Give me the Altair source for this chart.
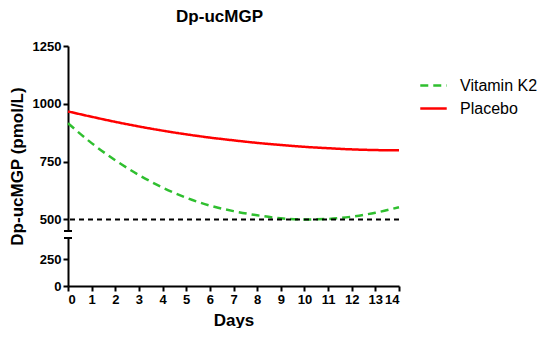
import altair as alt
import pandas as pd

days = list(range(15))
k2 = [916, 830, 756, 692, 638, 594, 560, 536, 518, 505, 500, 502, 512, 529, 553]
placebo = [967, 944, 922, 902, 884, 868, 854, 842, 831, 822, 814, 808, 803, 800, 799]
series = ["Vitamin K2", "Placebo"]
upper_ticks = [500, 750, 1000, 1250]
lower_ticks = [0, 250]
ref_value = 500
break_value = 450

FONT = "Liberation Sans"

df = pd.DataFrame(
    {"day": days * 2,
     "value": k2 + placebo,
     "group": [series[0]] * len(days) + [series[1]] * len(days)}
)

xscale = alt.Scale(domain=[0, 14], nice=False, zero=False)

axis_common = dict(
    domainColor="black", domainWidth=2, tickColor="black", tickWidth=2,
    tickSize=5, labelFont=FONT, labelFontSize=13, labelFontWeight="bold",
    labelColor="black", labelPadding=2, grid=False, format="d",
)

legend_kw = dict(title=None, orient="none", legendX=351, legendY=25,
                 labelFont=FONT, labelFontSize=16, labelColor="black",
                 symbolType="stroke", symbolSize=700, padding=0,
                 symbolStrokeWidth=2.5, labelOffset=12, rowPadding=-4)

lines = alt.Chart(df).mark_line(strokeWidth=2.5, interpolate="monotone").encode(
    x=alt.X("day:Q", scale=xscale, axis=None),
    y=alt.Y("value:Q",
            scale=alt.Scale(domain=[break_value, 1250], nice=False, zero=False),
            axis=alt.Axis(values=upper_ticks, title="Dp-ucMGP (pmol/L)",
                          titleFont=FONT, titleFontSize=17, titleFontWeight="bold",
                          titleColor="black", titlePadding=6, titleY=120,
                          **axis_common)),
    color=alt.Color("group:N", sort=series,
                    scale=alt.Scale(domain=series, range=["#2fbf2f", "#ff0000"]),
                    legend=alt.Legend(**legend_kw)),
    strokeDash=alt.StrokeDash("group:N", sort=series,
                              scale=alt.Scale(domain=series, range=[[8, 5], [1, 0]]),
                              legend=alt.Legend(**legend_kw)),
)

ref = alt.Chart(pd.DataFrame({"v": [ref_value]})).mark_rule(
    color="black", strokeWidth=2, strokeDash=[5, 4]
).encode(y="v:Q")

cap_up = alt.Chart(pd.DataFrame({"v": [break_value]})).mark_rule(
    color="black", strokeWidth=2
).encode(y="v:Q", x=alt.value(-4), x2=alt.value(4))

upper = alt.layer(lines, ref, cap_up).properties(width=331, height=185)

lower_base = alt.Chart(pd.DataFrame({"day": [0], "value": [break_value]}))
lower_axis = lower_base.mark_point(opacity=0).encode(
    x=alt.X("day:Q", scale=xscale,
            axis=alt.Axis(values=days, title="Days", titleFont=FONT, titleFontSize=17,
                          titleFontWeight="bold", titleColor="black", titlePadding=6,
                          **axis_common)),
    y=alt.Y("value:Q", scale=alt.Scale(domain=[0, break_value], nice=False),
            axis=alt.Axis(values=lower_ticks, title=None, **axis_common)),
)
cap_low = lower_base.mark_rule(color="black", strokeWidth=2).encode(
    y="value:Q", x=alt.value(-4), x2=alt.value(4)
)
lower = alt.layer(lower_axis, cap_low).properties(width=331, height=48)

chart = alt.vconcat(upper, lower, spacing=7, bounds="flush").properties(
    title=alt.TitleParams("Dp-ucMGP", font=FONT, fontSize=17, fontWeight="bold",
                          color="black", anchor="start", dx=168, offset=14),
    padding={"left": 0, "top": 0, "right": 0, "bottom": 0},
    background="white",
).configure_view(strokeWidth=0, stroke="transparent")

chart.save("out.html", embed_options={"renderer": "svg", "actions": False})
